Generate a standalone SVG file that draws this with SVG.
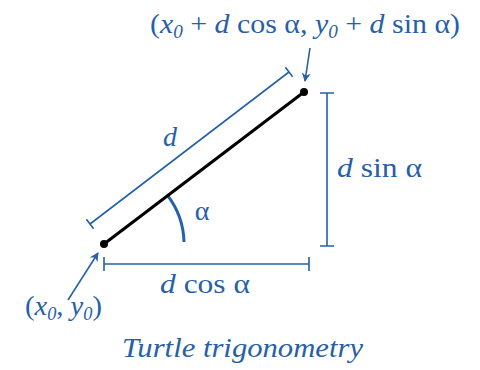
<svg xmlns="http://www.w3.org/2000/svg" width="480" height="370" viewBox="0 0 480 370">
<defs>
<style>
.b{stroke:#2660a8;fill:none;stroke-width:1.6}
.t{fill:#2660a8;font-family:"Liberation Serif","DejaVu Serif",serif;font-size:28px}
.i{font-style:italic}
</style>
<marker id="ah" viewBox="0 0 10 10" refX="9" refY="5" markerWidth="9" markerHeight="9" markerUnits="userSpaceOnUse" orient="auto">
<path d="M0,0 L10,5 L0,10 L3,5 Z" fill="#2660a8"/>
</marker>
</defs>
<rect width="480" height="370" fill="#fff"/>
<g id="connectors">
<path class="b" d="M90,224 L289,72 M86.4,219.2 L93.6,228.8 M285.4,67.2 L292.6,76.8"/>
<path class="b" d="M104,264 H309 M104,257 V271 M309,257 V271"/>
<path class="b" d="M327,93 V246 M320,93 H334 M320,246 H334"/>
<path d="M167.7,195.6 A80,80 0 0 1 184,242" fill="none" stroke="#2660a8" stroke-width="3"/>
<path class="b" d="M310,48 L305,81" marker-end="url(#ah)"/>
<path class="b" d="M68,300 L98,253" marker-end="url(#ah)"/>
</g>
<g id="segment">
<line x1="104" y1="244" x2="304" y2="92" stroke="#000" stroke-width="3"/>
<circle cx="104" cy="244" r="4" fill="#000"/>
<circle cx="304" cy="92" r="4" fill="#000"/>
</g>
<g id="top-label"><text class="t" x="150" y="33" textLength="310" lengthAdjust="spacingAndGlyphs" xml:space="preserve">(<tspan class="i">x</tspan><tspan class="i" font-size="18" dy="5">0</tspan><tspan dy="-5"> + </tspan><tspan class="i">d</tspan> cos α, <tspan class="i">y</tspan><tspan class="i" font-size="18" dy="5">0</tspan><tspan dy="-5"> + </tspan><tspan class="i">d</tspan> sin α)</text></g>
<g id="d-label"><text class="t i" x="170" y="146" text-anchor="middle">d</text></g>
<g id="alpha-label"><text class="t" x="202" y="220" text-anchor="middle">α</text></g>
<g id="dcos-label"><text class="t" x="160" y="293" textLength="90" lengthAdjust="spacingAndGlyphs"><tspan class="i">d</tspan> cos α</text></g>
<g id="dsin-label"><text class="t" x="337" y="177" textLength="85" lengthAdjust="spacingAndGlyphs"><tspan class="i">d</tspan> sin α</text></g>
<g id="start-label"><text class="t" x="25" y="315" textLength="77" lengthAdjust="spacingAndGlyphs">(<tspan class="i">x</tspan><tspan class="i" font-size="18" dy="5">0</tspan><tspan dy="-5">, </tspan><tspan class="i">y</tspan><tspan class="i" font-size="18" dy="5">0</tspan><tspan dy="-5">)</tspan></text></g>
<g id="title"><text class="t i" x="122" y="357" textLength="241" lengthAdjust="spacingAndGlyphs">Turtle trigonometry</text></g>
</svg>
